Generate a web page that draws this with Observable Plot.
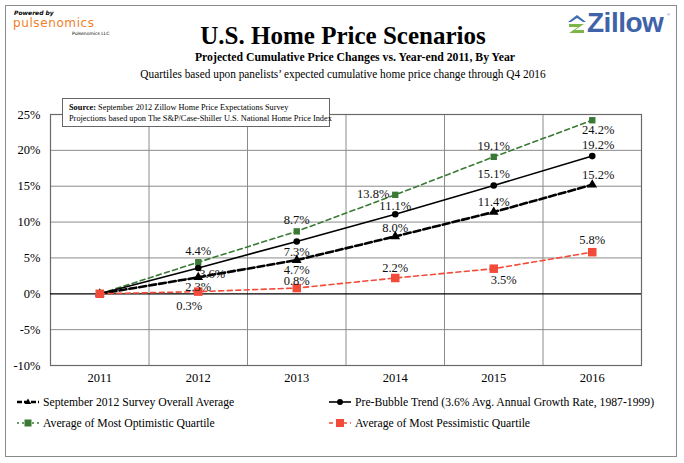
<!DOCTYPE html>
<html><head><meta charset="utf-8">
<script src="https://cdn.jsdelivr.net/npm/d3@7"></script>
<script src="https://cdn.jsdelivr.net/npm/@observablehq/plot@0.6"></script>
<style>
body{margin:0;background:#fff;}
#page{position:relative;width:684px;height:463px;font-family:"Liberation Serif","Times New Roman",serif;color:#000;overflow:hidden;}
#border{position:absolute;left:5px;top:5px;width:670px;height:450px;border:1.5px solid #8a8a8a;}
.t{position:absolute;white-space:nowrap;}
#title{left:0;width:686px;text-align:center;top:22px;font-size:25px;font-weight:bold;}
#sub{left:0;width:710px;text-align:center;top:49px;font-size:13.5px;font-weight:bold;transform:scaleX(0.87);transform-origin:355px 0;}
#sub2{left:0;width:686px;text-align:center;top:66px;font-size:13px;transform:scaleX(0.87);transform-origin:343px 0;}
#chart{position:absolute;left:0;top:100px;}
#chart svg, #chart svg g, #chart svg text{font-family:"Liberation Serif","Times New Roman",serif !important;}
#source{position:absolute;left:62px;top:98px;width:268px;height:29px;border:1px solid #666;background:#fff;font-size:8.3px;line-height:11px;padding:3px 0 0 6px;box-sizing:border-box;white-space:nowrap;}
.leg{position:absolute;font-size:11.7px;display:flex;align-items:center;white-space:nowrap;}
.leg svg{margin-right:2px;}
</style></head>
<body><div id="page">
<div id="border"></div>
<div class="t" style="left:14px;top:9px;font-family:'DejaVu Sans',sans-serif;font-size:6px;font-weight:bold;font-style:italic;">Powered by</div>
<div class="t" style="left:13px;top:16px;font-family:'DejaVu Sans',sans-serif;font-size:12px;color:#f0802a;letter-spacing:0.6px;">pulsenomics</div>
<div class="t" style="left:72px;top:31px;font-family:'DejaVu Sans',sans-serif;font-size:4.5px;">Pulsenomics LLC</div>
<svg class="t" style="left:566px;top:14px" width="22" height="20" viewBox="0 0 22 20">
<path d="M2 8 L11 1 L20 8 L17 8 L11 4 L5 8 Z" fill="#3d6fb0"/>
<path d="M3 10 L18 10 L9 16 L18 16 L18 19 L3 19 L12 13 L3 13 Z" fill="#7ab648"/>
</svg>
<div class="t" style="left:587px;top:7px;font-family:'Liberation Sans',Arial,sans-serif;font-size:28px;font-weight:bold;color:#3f62a8;letter-spacing:-0.5px;">Zillow</div>
<div class="t" style="left:667px;top:12px;font-family:'Liberation Sans',Arial,sans-serif;font-size:4px;color:#3f62a8;">®</div>
<div id="title" class="t">U.S. Home Price Scenarios</div>
<div id="sub" class="t">Projected Cumulative Price Changes vs. Year-end 2011, By Year</div>
<div id="sub2" class="t">Quartiles based upon panelists’ expected cumulative home price change through Q4 2016</div>
<div id="chart"></div>
<div id="source"><b>Source:</b> September 2012 Zillow Home Price Expectations Survey<br>Projections based upon The S&amp;P/Case-Shiller U.S. National Home Price Index</div>
<div id="legend"></div>
</div>
<script>
const years = [2011, 2012, 2013, 2014, 2015, 2016];
const surveyAvg = [0, 2.3, 4.7, 8.0, 11.4, 15.2];
const preBubble = [0, 3.6, 7.3, 11.1, 15.1, 19.2];
const optimistic = [0, 4.4, 8.7, 13.8, 19.1, 24.2];
const pessimistic = [0, 0.3, 0.8, 2.2, 3.5, 5.8];
const yTicks = [-10, -5, 0, 5, 10, 15, 20, 25];
const seriesNames = [
  "September 2012 Survey Overall Average",
  "Pre-Bubble Trend (3.6% Avg. Annual Growth Rate, 1987-1999)",
  "Average of Most Optimistic Quartile",
  "Average of Most Pessimistic Quartile"
];

// label placement per series & year (index 0 = 2011 has no label)
const place = {
  survey: [null, [0, 10], [0, 10], [0, -8], [0, -10], [6, -10]],
  pre:    [null, [14, 6], [0, 11], [0, -8], [0, -11], [6, -11]],
  opt:    [null, [0, -11], [0, -11], [-22, -1], [0, -11], [6, 10]],
  pes:    [null, [-9, 14], [0, -7], [0, -10], [10, 11], [0, -12]]
};
const mk = (vals, key) => years.map((y, i) => ({year: y, v: vals[i], key, i}));
const S = mk(surveyAvg, "survey"), P = mk(preBubble, "pre"), O = mk(optimistic, "opt"), R = mk(pessimistic, "pes");

const GREEN = "#3a7a35", RED = "#f24b3a";
const font = "Liberation Serif, Times New Roman, serif";

function labels(arr) {
  const out = [];
  arr.filter(d => d.i > 0).forEach(d => {
    const [dx, dy] = place[d.key][d.i];
    out.push(Plot.text([d], {x: "year", y: "v", text: d => d.v.toFixed(1) + "%", dx, dy, fontSize: 12.5, fill: "#111", fontFamily: font}));
  });
  return out;
}

const chart = Plot.plot({
  width: 684, height: 295,
  marginLeft: 50, marginRight: 43, marginTop: 14, marginBottom: 30,
  style: {fontFamily: font, fontSize: "12.5px", background: "transparent"},
  x: {domain: [2010.5, 2016.5], ticks: years, tickFormat: d => String(d), tickSize: 0, tickPadding: 8, label: null},
  y: {domain: [-10, 25], ticks: yTicks, tickFormat: d => d + "%", tickSize: 0, tickPadding: 10, label: null},
  marks: [
    Plot.ruleY(yTicks.filter(t => t !== 0 && t !== -10 && t !== 25), {stroke: "#8c8c8c", strokeWidth: 1}),
    Plot.ruleX(years.slice(0, -1).map(y => y + 0.5), {stroke: "#8c8c8c", strokeWidth: 1}),
    Plot.frame({stroke: "#6a6a6a", strokeWidth: 1.2}),
    Plot.ruleY([0], {stroke: "#000", strokeWidth: 1.3}),
    Plot.axisX({ticks: years, tickFormat: d => String(d), tickSize: 0, tickPadding: 8, fontSize: 12.5, fontFamily: font}),
    Plot.axisY({ticks: yTicks, tickFormat: d => d + "%", tickSize: 0, tickPadding: 10, fontSize: 12.5, fontFamily: font}),
    Plot.line(O, {x: "year", y: "v", stroke: GREEN, strokeWidth: 1.6, strokeDasharray: "5,3.5"}),
    Plot.line(P, {x: "year", y: "v", stroke: "#000", strokeWidth: 1.6}),
    Plot.line(S, {x: "year", y: "v", stroke: "#000", strokeWidth: 2.6, strokeDasharray: "7,3"}),
    Plot.line(R, {x: "year", y: "v", stroke: RED, strokeWidth: 1.6, strokeDasharray: "5,3.5"}),
    Plot.dot(O, {x: "year", y: "v", symbol: "square", r: 3.6, fill: GREEN, stroke: "none"}),
    Plot.dot(P, {x: "year", y: "v", symbol: "circle", r: 3.3, fill: "#000", stroke: "none"}),
    Plot.dot(S, {x: "year", y: "v", symbol: "triangle", r: 3.6, fill: "#000", stroke: "none"}),
    Plot.dot(R, {x: "year", y: "v", symbol: "square", r: 4.8, fill: RED, stroke: "none"}),
    ...labels(O), ...labels(P), ...labels(S), ...labels(R)
  ]
});
document.getElementById("chart").appendChild(chart);
chart.querySelectorAll("text").forEach(t => t.style.setProperty("font-family", '"Liberation Serif", "Times New Roman", serif', "important"));

// legend
const legSpecs = [
  {name: seriesNames[0], x: 17, y: 395, color: "#000", w: 2.6, dash: "5,2", sym: "tri"},
  {name: seriesNames[1], x: 329, y: 395, color: "#000", w: 1.6, dash: null, sym: "circ"},
  {name: seriesNames[2], x: 17, y: 416, color: GREEN, w: 1.6, dash: "2,3", sym: "sq"},
  {name: seriesNames[3], x: 329, y: 416, color: RED, w: 1.6, dash: "4,3", sym: "sq2"}
];
const leg = document.getElementById("legend");
legSpecs.forEach(s => {
  const div = document.createElement("div");
  div.className = "leg";
  div.style.left = s.x + "px"; div.style.top = s.y + "px";
  let m = "";
  if (s.sym === "tri") m = `<path d="M11 3.5 L14.2 9 L7.8 9 Z" fill="${s.color}"/>`;
  if (s.sym === "circ") m = `<circle cx="11" cy="7" r="3" fill="${s.color}"/>`;
  if (s.sym === "sq") m = `<rect x="7.5" y="3.5" width="7" height="7" fill="${s.color}"/>`;
  if (s.sym === "sq2") m = `<rect x="7" y="3" width="8" height="8" fill="${s.color}"/>`;
  div.innerHTML = `<svg width="24" height="14"><line x1="0" x2="22" y1="7" y2="7" stroke="${s.color}" stroke-width="${s.w}" ${s.dash ? `stroke-dasharray="${s.dash}"` : ""}/>${m}</svg><span>${s.name}</span>`;
  leg.appendChild(div);
});
</script>
</body></html>
